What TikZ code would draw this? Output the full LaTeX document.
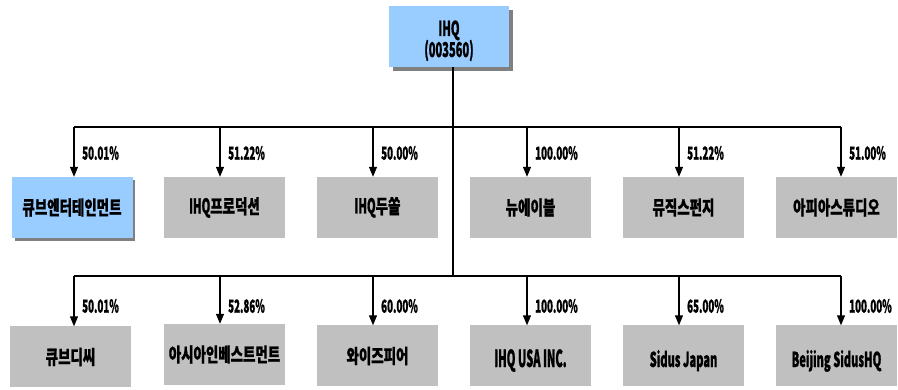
\documentclass[tikz,border=0pt]{standalone}
\usepackage{fontspec}
\setmainfont{Noto Sans CJK KR}[FakeStretch=0.69, BoldFeatures={FakeBold=0.8}]
\newfontfamily\lat{Noto Sans CJK KR}[FakeStretch=0.54, BoldFeatures={FakeBold=0.8}]
\newfontfamily\latn{Noto Sans CJK KR}[FakeStretch=0.47, BoldFeatures={FakeBold=0.8}]
\usetikzlibrary{arrows.meta}
\definecolor{bluebox}{HTML}{99CCFF}
\definecolor{graybox}{HTML}{C0C0C0}
\definecolor{shadowc}{HTML}{808080}
\tikzset{
  sub/.style={fill=graybox, draw=none, minimum width=121pt, minimum height=61pt, inner sep=0pt, font=\fontsize{19.5}{22}\selectfont\bfseries},
  subblue/.style={sub, fill=bluebox},
  conn/.style={line width=1.3pt, draw=black},
  arr/.style={line width=1.1pt, -{Triangle[length=10pt,width=8pt]}},
  pct/.style={anchor=west, inner sep=0pt, font=\lat\fontsize{18}{20}\selectfont\bfseries},
  toptext/.style={anchor=base, inner sep=0pt, font=\lat\fontsize{20.5}{22}\selectfont\bfseries},
  btext/.style={anchor=base, inner sep=0pt, font=\lat\fontsize{20.5}{22}\selectfont\bfseries},
}
\newcommand{\latxt}[1]{{\lat\fontsize{20.5}{22}\selectfont\bfseries #1}}
\begin{document}
\begin{tikzpicture}[x=1pt,y=-1pt]
\useasboundingbox (0,0) rectangle (898,390);
% top node
\fill[shadowc] (393,10) rectangle (513,71);
\node[subblue, minimum width=120pt, minimum height=61pt] (ihq) at (449,36.5) {};
\node[toptext] (ihq1) at (449,36) {IHQ};
\node[toptext] (ihq2) at (449,57) {(003560)};
% trunk
\coordinate (t2) at (453,276);
\draw[conn] (ihq.south -| t2) -- (t2);
\coordinate (l1) at (74,127);
\coordinate (r1) at (841,127);
\coordinate (l2) at (74,276);
\coordinate (r2) at (841,276);
\draw[conn] (l1) -- (r1);
\draw[conn] (l2) -- (r2);
% row 1
\fill[shadowc] (15,180) rectangle (135,241);
\node[subblue] (a1) at (72,207.5) {큐브엔터테인먼트};
\node[sub] (a2) at (224.5,207.5) {\latxt{IHQ}프로덕션};
\node[sub] (a3) at (377.5,207.5) {\latxt{IHQ}두쏠};
\node[sub] (a4) at (530.5,207.5) {뉴에이블};
\node[sub] (a5) at (683.5,207.5) {뮤직스펀지};
\node[sub] (a6) at (836.5,207.5) {아피아스튜디오};
% row 2
\node[sub] (b1) at (70.5,357) {큐브디씨};
\node[sub] (b2) at (224.5,354.5) {아시아인베스트먼트};
\node[sub] (b3) at (377.5,356) {와이즈피어};
\node[sub] (b4) at (530.5,356) {};
\node[sub] (b5) at (683.5,356) {};
\node[sub] (b6) at (836.5,356) {};
\node[btext, font=\latn\fontsize{23.5}{24}\selectfont\bfseries] (b4t) at (530.5,367) {IHQ USA INC.};
\node[btext] (b5t) at (683.5,367) {Sidus Japan};
\node[btext] (b6t) at (836.5,367) {Beijing SidusHQ};
% arrows row 1
\foreach \x/\n/\p in {74/a1/50.01\%, 220/a2/51.22\%, 373/a3/50.00\%, 527/a4/100.00\%, 679/a5/51.22\%, 841/a6/51.00\%}{
  \coordinate (s) at (\x,127);
  \draw[arr] (s) -- (\n.north -| s);
  \node[pct] at (\x+8,153) {\p};
}
% arrows row 2
\foreach \x/\n/\p in {74/b1/50.01\%, 220/b2/52.86\%, 373/b3/60.00\%, 527/b4/100.00\%, 679/b5/65.00\%, 841/b6/100.00\%}{
  \coordinate (s) at (\x,276);
  \draw[arr] (s) -- (\n.north -| s);
  \node[pct] at (\x+8,306) {\p};
}
\end{tikzpicture}
\end{document}
